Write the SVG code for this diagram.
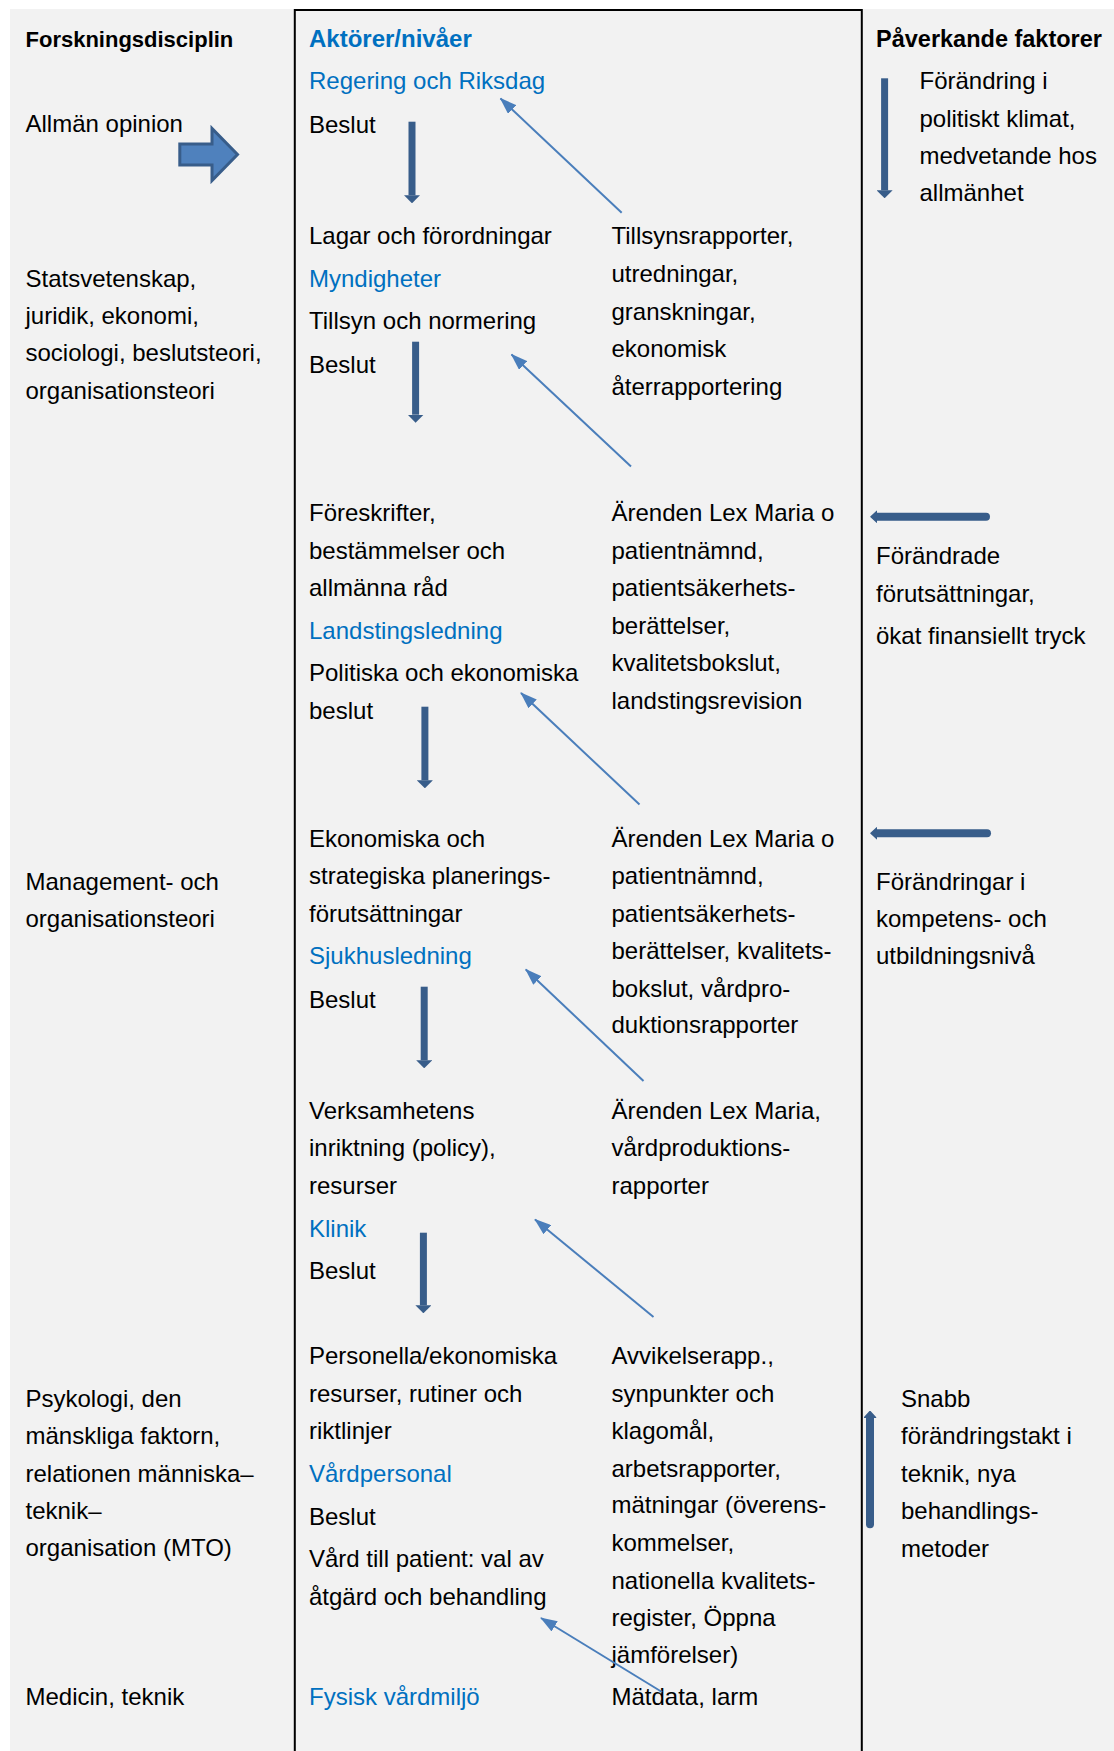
<svg xmlns="http://www.w3.org/2000/svg" width="1114" height="1751" viewBox="0 0 1114 1751">
<style>
.t{font-family:"Liberation Sans",Arial,sans-serif;font-size:24px;fill:#000}
.h{font-weight:bold;font-size:22.5px}
.blue{fill:#0070C0}
.thick{stroke:#385D8A;stroke-width:7;fill:none}
.bar{stroke:#385D8A;stroke-width:8;stroke-linecap:round;fill:none}
.thin{stroke:#4A7EBB;stroke-width:2;fill:none}
</style>
<defs>
<marker id="headThick" viewBox="0 0 8 16" refX="0" refY="8" markerWidth="8" markerHeight="16" markerUnits="userSpaceOnUse" orient="auto">
<path d="M0,0 L8,8 L0,16 Z" fill="#385D8A"/>
</marker>
<marker id="headBar" viewBox="0 0 7 13" refX="0" refY="6.5" markerWidth="7" markerHeight="13" markerUnits="userSpaceOnUse" orient="auto">
<path d="M0,1 L6,6.5 L0,12 Z" fill="#385D8A" stroke="#385D8A" stroke-width="1.5" stroke-linejoin="round"/>
</marker>
<marker id="headThin" viewBox="0 0 17 12" refX="16" refY="6" markerWidth="17" markerHeight="12" markerUnits="userSpaceOnUse" orient="auto">
<path d="M0,0 L17,6 L0,12 Z" fill="#4A7EBB"/>
</marker>
</defs>
<rect x="0" y="0" width="1114" height="1751" fill="#ffffff"/>
<rect x="10" y="9" width="1104" height="1742" fill="#f2f2f2"/>
<g id="frame" stroke="#000" stroke-width="2" fill="none">
<path d="M294.8,1751 V10 H861.8 V1751"/>
</g>

<g id="col-left-header"><text class="t h" x="25.5" y="47" style="font-size:22px">Forskningsdisciplin</text></g>
<g id="col-mid-header"><text class="t h blue" x="309" y="47" style="font-size:24px">Aktörer/nivåer</text></g>
<g id="col-right-header"><text class="t h" x="876" y="47" style="font-size:23.5px">Påverkande faktorer</text></g>

<g id="disc-opinion"><text class="t" x="25.5" y="132">Allmän opinion</text></g>
<g id="disc-stats"><text class="t" x="25.5"><tspan x="25.5" y="287">Statsvetenskap,</tspan><tspan x="25.5" y="324">juridik, ekonomi,</tspan><tspan x="25.5" y="361.3">sociologi, beslutsteori,</tspan><tspan x="25.5" y="398.5">organisationsteori</tspan></text></g>
<g id="disc-management"><text class="t" x="25.5"><tspan x="25.5" y="889.5">Management- och</tspan><tspan x="25.5" y="927">organisationsteori</tspan></text></g>
<g id="disc-psykologi"><text class="t" x="25.5"><tspan x="25.5" y="1406.5">Psykologi, den</tspan><tspan x="25.5" y="1444">mänskliga faktorn,</tspan><tspan x="25.5" y="1481.5">relationen människa–</tspan><tspan x="25.5" y="1518.5">teknik–</tspan><tspan x="25.5" y="1556">organisation (MTO)</tspan></text></g>
<g id="disc-medicin"><text class="t" x="25.5" y="1705">Medicin, teknik</text></g>

<g id="level-regering"><text class="t blue" x="309" y="89">Regering och Riksdag</text><text class="t" x="309" y="132.5">Beslut</text></g>
<g id="level-myndigheter"><text class="t" x="309" y="244">Lagar och förordningar</text><text class="t blue" x="309" y="286.5">Myndigheter</text><text class="t" x="309" y="329">Tillsyn och normering</text><text class="t" x="309" y="372.5">Beslut</text></g>
<g id="level-landsting"><text class="t"><tspan x="309" y="521">Föreskrifter,</tspan><tspan x="309" y="559">bestämmelser och</tspan><tspan x="309" y="596">allmänna råd</tspan></text><text class="t blue" x="309" y="639">Landstingsledning</text><text class="t"><tspan x="309" y="680.5">Politiska och ekonomiska</tspan><tspan x="309" y="718.5">beslut</tspan></text></g>
<g id="level-sjukhus"><text class="t"><tspan x="309" y="847">Ekonomiska och</tspan><tspan x="309" y="884">strategiska planerings-</tspan><tspan x="309" y="921.5">förutsättningar</tspan></text><text class="t blue" x="309" y="964">Sjukhusledning</text><text class="t" x="309" y="1007.5">Beslut</text></g>
<g id="level-klinik"><text class="t"><tspan x="309" y="1119">Verksamhetens</tspan><tspan x="309" y="1156">inriktning (policy),</tspan><tspan x="309" y="1194">resurser</tspan></text><text class="t blue" x="309" y="1236.5">Klinik</text><text class="t" x="309" y="1279">Beslut</text></g>
<g id="level-vardpersonal"><text class="t"><tspan x="309" y="1363.5">Personella/ekonomiska</tspan><tspan x="309" y="1401.5">resurser, rutiner och</tspan><tspan x="309" y="1438.5">riktlinjer</tspan></text><text class="t blue" x="309" y="1482">Vårdpersonal</text><text class="t"><tspan x="309" y="1524.5">Beslut</tspan><tspan x="309" y="1567">Vård till patient: val av</tspan><tspan x="309" y="1605">åtgärd och behandling</tspan></text></g>
<g id="level-fysisk"><text class="t blue" x="309" y="1705">Fysisk vårdmiljö</text></g>

<g id="fb-tillsyn"><text class="t"><tspan x="611.5" y="244">Tillsynsrapporter,</tspan><tspan x="611.5" y="282">utredningar,</tspan><tspan x="611.5" y="320">granskningar,</tspan><tspan x="611.5" y="357">ekonomisk</tspan><tspan x="611.5" y="395">återrapportering</tspan></text></g>
<g id="fb-landsting"><text class="t"><tspan x="611.5" y="521">Ärenden Lex Maria o</tspan><tspan x="611.5" y="559">patientnämnd,</tspan><tspan x="611.5" y="596">patientsäkerhets-</tspan><tspan x="611.5" y="633.5">berättelser,</tspan><tspan x="611.5" y="670.5">kvalitetsbokslut,</tspan><tspan x="611.5" y="708.5">landstingsrevision</tspan></text></g>
<g id="fb-sjukhus"><text class="t"><tspan x="611.5" y="847">Ärenden Lex Maria o</tspan><tspan x="611.5" y="884">patientnämnd,</tspan><tspan x="611.5" y="921.5">patientsäkerhets-</tspan><tspan x="611.5" y="958.5">berättelser, kvalitets-</tspan><tspan x="611.5" y="996.5">bokslut, vårdpro-</tspan><tspan x="611.5" y="1033">duktionsrapporter</tspan></text></g>
<g id="fb-klinik"><text class="t"><tspan x="611.5" y="1119">Ärenden Lex Maria,</tspan><tspan x="611.5" y="1156">vårdproduktions-</tspan><tspan x="611.5" y="1194">rapporter</tspan></text></g>
<g id="fb-vardpersonal"><text class="t"><tspan x="611.5" y="1363.5">Avvikelserapp.,</tspan><tspan x="611.5" y="1401.5">synpunkter och</tspan><tspan x="611.5" y="1438.5">klagomål,</tspan><tspan x="611.5" y="1476.5">arbetsrapporter,</tspan><tspan x="611.5" y="1513">mätningar (överens-</tspan><tspan x="611.5" y="1551">kommelser,</tspan><tspan x="611.5" y="1589">nationella kvalitets-</tspan><tspan x="611.5" y="1626">register, Öppna</tspan><tspan x="611.5" y="1663">jämförelser)</tspan></text></g>
<g id="fb-fysisk"><text class="t" x="611.5" y="1705">Mätdata, larm</text></g>

<g id="factor-politik"><text class="t"><tspan x="919.5" y="89">Förändring i</tspan><tspan x="919.5" y="127">politiskt klimat,</tspan><tspan x="919.5" y="164">medvetande hos</tspan><tspan x="919.5" y="200.5">allmänhet</tspan></text></g>
<g id="factor-ekonomi"><text class="t"><tspan x="876" y="563.5">Förändrade</tspan><tspan x="876" y="602">förutsättningar,</tspan><tspan x="876" y="643.5">ökat finansiellt tryck</tspan></text></g>
<g id="factor-kompetens"><text class="t"><tspan x="876" y="889.5">Förändringar i</tspan><tspan x="876" y="927">kompetens- och</tspan><tspan x="876" y="964">utbildningsnivå</tspan></text></g>
<g id="factor-teknik"><text class="t"><tspan x="901" y="1406.5">Snabb</tspan><tspan x="901" y="1444">förändringstakt i</tspan><tspan x="901" y="1482">teknik, nya</tspan><tspan x="901" y="1519">behandlings-</tspan><tspan x="901" y="1557">metoder</tspan></text></g>

<g id="connectors">
<polygon points="179.8,144 212,144 212,128.5 237.5,154.5 212,180.5 212,165 179.8,165" fill="#4F81BD" stroke="#385D8A" stroke-width="3"/>
<line class="thick" x1="412" y1="121.7" x2="412" y2="195.3" marker-end="url(#headThick)"/>
<line class="thick" x1="415.6" y1="341.7" x2="415.6" y2="414.7" marker-end="url(#headThick)"/>
<line class="thick" x1="424.9" y1="706.7" x2="424.9" y2="780.3" marker-end="url(#headThick)"/>
<line class="thick" x1="424.2" y1="986.7" x2="424.2" y2="1060.3" marker-end="url(#headThick)"/>
<line class="thick" x1="423.4" y1="1232.7" x2="423.4" y2="1305.3" marker-end="url(#headThick)"/>
<line class="thick" x1="884.6" y1="78.3" x2="884.6" y2="190.3" marker-end="url(#headThick)"/>
<line class="bar" x1="986" y1="516.7" x2="877" y2="516.7" marker-end="url(#headBar)"/>
<line class="bar" x1="987" y1="833.3" x2="877" y2="833.3" marker-end="url(#headBar)"/>
<line class="bar" x1="870" y1="1524.3" x2="870" y2="1417.5" marker-end="url(#headBar)"/>
<line class="thin" x1="621.7" y1="212.7" x2="500.5" y2="98.5" marker-end="url(#headThin)"/>
<line class="thin" x1="631" y1="466.5" x2="511.5" y2="354.5" marker-end="url(#headThin)"/>
<line class="thin" x1="639.5" y1="804.5" x2="521" y2="693" marker-end="url(#headThin)"/>
<line class="thin" x1="643.5" y1="1081" x2="525.8" y2="969.5" marker-end="url(#headThin)"/>
<line class="thin" x1="653.5" y1="1317" x2="535" y2="1219.5" marker-end="url(#headThin)"/>
<line class="thin" x1="662" y1="1692" x2="541" y2="1618" marker-end="url(#headThin)"/>
</g>
</svg>
